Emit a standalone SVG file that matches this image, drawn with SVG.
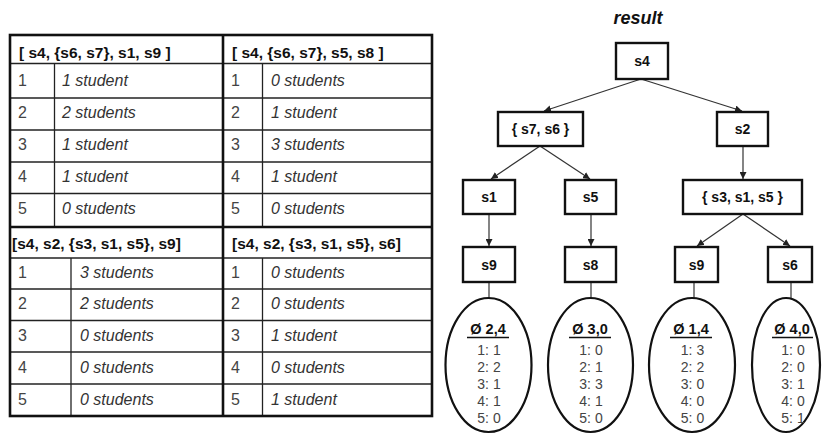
<svg xmlns="http://www.w3.org/2000/svg" width="826" height="435" viewBox="0 0 826 435">
<style>
.bg{fill:#fff}
.tl{stroke:#222;stroke-width:1.3;fill:none}
.tb{stroke:#111;stroke-width:2.6;fill:none}
.hd{font-family:"Liberation Sans",Arial,sans-serif;font-weight:bold;font-size:15.5px;fill:#111}
.num{font-family:"Liberation Sans",Arial,sans-serif;font-size:16px;fill:#444}
.val{font-family:"Liberation Sans",Arial,sans-serif;font-size:16px;font-style:italic;fill:#333}
.box{fill:#fff;stroke:#111;stroke-width:2.4}
.bl{font-family:"Liberation Sans",Arial,sans-serif;font-weight:bold;font-size:14px;fill:#111;text-anchor:middle}
.ell{fill:#fff;stroke:#111;stroke-width:2.2}
.avg{font-family:"Liberation Sans",Arial,sans-serif;font-weight:bold;font-size:14.5px;fill:#111;text-anchor:middle}
.cnt{font-family:"Liberation Sans",Arial,sans-serif;font-size:14px;fill:#444;text-anchor:middle}
.ul{stroke:#111;stroke-width:1.5}
.cn{stroke:#333;stroke-width:1.2;fill:none}
</style>
<defs>
<marker id="ah" viewBox="0 0 10 10" refX="10" refY="5" markerWidth="7" markerHeight="7" orient="auto" markerUnits="userSpaceOnUse">
<path d="M0,0 L10,5 L0,10 z" fill="#222"/>
</marker>
</defs>
<rect class="bg" x="0" y="0" width="826" height="435"/>

<g id="table">
<g id="table-top-left">
<line class="tl" x1="10" y1="63.5" x2="223" y2="63.5"/>
<line class="tl" x1="10" y1="98" x2="223" y2="98"/>
<line class="tl" x1="10" y1="130" x2="223" y2="130"/>
<line class="tl" x1="10" y1="162" x2="223" y2="162"/>
<line class="tl" x1="10" y1="193.5" x2="223" y2="193.5"/>
<line class="tl" x1="54.5" y1="63.5" x2="54.5" y2="226"/>
<text class="hd" x="19" y="58">[ s4, {s6, s7}, s1, s9 ]</text>
<text class="num" x="18" y="86">1</text><text class="val" x="62" y="86">1 student</text>
<text class="num" x="18" y="118">2</text><text class="val" x="62" y="118">2 students</text>
<text class="num" x="18" y="150">3</text><text class="val" x="62" y="150">1 student</text>
<text class="num" x="18" y="182">4</text><text class="val" x="62" y="182">1 student</text>
<text class="num" x="18" y="214">5</text><text class="val" x="62" y="214">0 students</text>
</g>
<g id="table-top-right">
<line class="tl" x1="223" y1="63.5" x2="432" y2="63.5"/>
<line class="tl" x1="223" y1="98" x2="432" y2="98"/>
<line class="tl" x1="223" y1="130" x2="432" y2="130"/>
<line class="tl" x1="223" y1="162" x2="432" y2="162"/>
<line class="tl" x1="223" y1="193.5" x2="432" y2="193.5"/>
<line class="tl" x1="262.5" y1="63.5" x2="262.5" y2="226"/>
<text class="hd" x="232" y="58">[ s4, {s6, s7}, s5, s8 ]</text>
<text class="num" x="231" y="86">1</text><text class="val" x="271" y="86">0 students</text>
<text class="num" x="231" y="118">2</text><text class="val" x="271" y="118">1 student</text>
<text class="num" x="231" y="150">3</text><text class="val" x="271" y="150">3 students</text>
<text class="num" x="231" y="182">4</text><text class="val" x="271" y="182">1 student</text>
<text class="num" x="231" y="214">5</text><text class="val" x="271" y="214">0 students</text>
</g>
<g id="table-bottom-left">
<line class="tl" x1="10" y1="258" x2="223" y2="258"/>
<line class="tl" x1="10" y1="289" x2="223" y2="289"/>
<line class="tl" x1="10" y1="320.5" x2="223" y2="320.5"/>
<line class="tl" x1="10" y1="352" x2="223" y2="352"/>
<line class="tl" x1="10" y1="384" x2="223" y2="384"/>
<line class="tl" x1="71" y1="258" x2="71" y2="416"/>
<text class="hd" x="12" y="249">[s4, s2, {s3, s1, s5}, s9]</text>
<text class="num" x="18" y="278">1</text><text class="val" x="80" y="278">3 students</text>
<text class="num" x="18" y="309">2</text><text class="val" x="80" y="309">2 students</text>
<text class="num" x="18" y="341">3</text><text class="val" x="80" y="341">0 students</text>
<text class="num" x="18" y="373">4</text><text class="val" x="80" y="373">0 students</text>
<text class="num" x="18" y="405">5</text><text class="val" x="80" y="405">0 students</text>
</g>
<g id="table-bottom-right">
<line class="tl" x1="223" y1="258" x2="432" y2="258"/>
<line class="tl" x1="223" y1="289" x2="432" y2="289"/>
<line class="tl" x1="223" y1="320.5" x2="432" y2="320.5"/>
<line class="tl" x1="223" y1="352" x2="432" y2="352"/>
<line class="tl" x1="223" y1="384" x2="432" y2="384"/>
<line class="tl" x1="262.5" y1="258" x2="262.5" y2="416"/>
<text class="hd" x="232" y="249">[s4, s2, {s3, s1, s5}, s6]</text>
<text class="num" x="231" y="278">1</text><text class="val" x="271" y="278">0 students</text>
<text class="num" x="231" y="309">2</text><text class="val" x="271" y="309">0 students</text>
<text class="num" x="231" y="341">3</text><text class="val" x="271" y="341">1 student</text>
<text class="num" x="231" y="373">4</text><text class="val" x="271" y="373">0 students</text>
<text class="num" x="231" y="405">5</text><text class="val" x="271" y="405">1 student</text>
</g>
<rect class="tb" x="10" y="35" width="422" height="381"/>
<line class="tb" x1="223" y1="35" x2="223" y2="416"/>
<line class="tb" x1="10" y1="227" x2="432" y2="227"/>
</g>

<text x="638" y="24" font-family="'Liberation Sans',Arial,sans-serif" font-weight="bold" font-style="italic" font-size="18" fill="#111" text-anchor="middle">result</text>

<g id="connectors">
<line class="cn" x1="641" y1="79" x2="544" y2="111" marker-end="url(#ah)"/>
<line class="cn" x1="641" y1="79" x2="742" y2="111" marker-end="url(#ah)"/>
<line class="cn" x1="540" y1="146" x2="491" y2="179" marker-end="url(#ah)"/>
<line class="cn" x1="540" y1="146" x2="590" y2="179" marker-end="url(#ah)"/>
<line class="cn" x1="743" y1="146" x2="743" y2="179" marker-end="url(#ah)"/>
<line class="cn" x1="743" y1="214" x2="697" y2="246" marker-end="url(#ah)"/>
<line class="cn" x1="743" y1="214" x2="790" y2="246" marker-end="url(#ah)"/>
<line class="cn" x1="489" y1="214" x2="489" y2="246" marker-end="url(#ah)"/>
<line class="cn" x1="591" y1="214" x2="591" y2="246" marker-end="url(#ah)"/>
<line class="cn" x1="489" y1="282" x2="489" y2="298"/>
<line class="cn" x1="591" y1="282" x2="591" y2="298"/>
<line class="cn" x1="694" y1="282" x2="694" y2="298"/>
<line class="cn" x1="791" y1="282" x2="791" y2="298"/>
</g>

<g id="n-s4"><rect class="box" x="616" y="43" width="52" height="36"/><text class="bl" x="642" y="66">s4</text></g>
<g id="n-s7s6"><rect class="box" x="498" y="112" width="85" height="34"/><text class="bl" x="540.5" y="134">{ s7, s6 }</text></g>
<g id="n-s2"><rect class="box" x="717" y="112" width="51" height="34"/><text class="bl" x="742.5" y="134">s2</text></g>
<g id="n-s1"><rect class="box" x="463" y="180" width="52" height="34"/><text class="bl" x="489" y="202">s1</text></g>
<g id="n-s5"><rect class="box" x="565" y="180" width="51" height="34"/><text class="bl" x="590.5" y="202">s5</text></g>
<g id="n-s3s1s5"><rect class="box" x="683" y="180" width="119" height="34"/><text class="bl" x="742.5" y="202">{ s3, s1, s5 }</text></g>
<g id="n-s9a"><rect class="box" x="463" y="247" width="52" height="35"/><text class="bl" x="489" y="270">s9</text></g>
<g id="n-s8"><rect class="box" x="565" y="247" width="51" height="35"/><text class="bl" x="590.5" y="270">s8</text></g>
<g id="n-s9b"><rect class="box" x="675" y="247" width="43" height="35"/><text class="bl" x="696.5" y="270">s9</text></g>
<g id="n-s6"><rect class="box" x="768" y="247" width="44" height="35"/><text class="bl" x="790" y="270">s6</text></g>

<g id="e1">
<ellipse class="ell" cx="488.5" cy="365" rx="43" ry="67"/>
<text class="avg" x="488" y="334">Ø 2,4</text><line class="ul" x1="467" y1="337.5" x2="509" y2="337.5"/>
<text class="cnt" x="489" y="355">1: 1</text><text class="cnt" x="489" y="372">2: 2</text><text class="cnt" x="489" y="389">3: 1</text><text class="cnt" x="489" y="406">4: 1</text><text class="cnt" x="489" y="423">5: 0</text>
</g>
<g id="e2">
<ellipse class="ell" cx="590.5" cy="365" rx="42.5" ry="67"/>
<text class="avg" x="590" y="334">Ø 3,0</text><line class="ul" x1="569" y1="337.5" x2="611" y2="337.5"/>
<text class="cnt" x="591" y="355">1: 0</text><text class="cnt" x="591" y="372">2: 1</text><text class="cnt" x="591" y="389">3: 3</text><text class="cnt" x="591" y="406">4: 1</text><text class="cnt" x="591" y="423">5: 0</text>
</g>
<g id="e3">
<ellipse class="ell" cx="692" cy="365" rx="43" ry="67"/>
<text class="avg" x="691" y="334">Ø 1,4</text><line class="ul" x1="670" y1="337.5" x2="712" y2="337.5"/>
<text class="cnt" x="692.5" y="355">1: 3</text><text class="cnt" x="692.5" y="372">2: 2</text><text class="cnt" x="692.5" y="389">3: 0</text><text class="cnt" x="692.5" y="406">4: 0</text><text class="cnt" x="692.5" y="423">5: 0</text>
</g>
<g id="e4">
<ellipse class="ell" cx="786" cy="365" rx="34" ry="67"/>
<text class="avg" x="792" y="334">Ø 4,0</text><line class="ul" x1="772" y1="337.5" x2="813" y2="337.5"/>
<text class="cnt" x="793" y="355">1: 0</text><text class="cnt" x="793" y="372">2: 0</text><text class="cnt" x="793" y="389">3: 1</text><text class="cnt" x="793" y="406">4: 0</text><text class="cnt" x="793" y="423">5: 1</text>
</g>
</svg>
